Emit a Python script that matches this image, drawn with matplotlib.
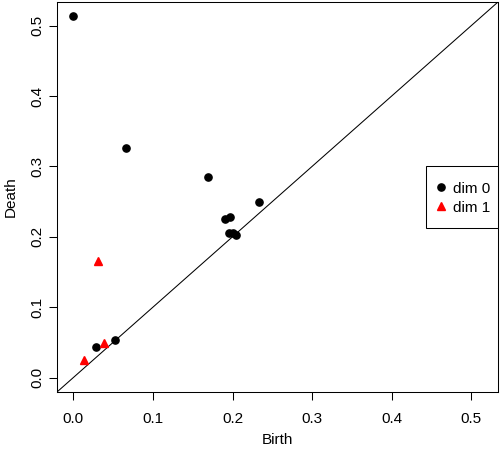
import matplotlib
matplotlib.use("Agg")
import matplotlib.pyplot as plt
from matplotlib.patches import Rectangle
import numpy as np

plt.rcParams['font.family'] = ['Liberation Sans', 'DejaVu Sans']

# Persistence diagram data
dim0_birth = [0.000, 0.066, 0.169, 0.233, 0.191, 0.197, 0.195, 0.201, 0.204, 0.052, 0.029]
dim0_death = [0.513, 0.326, 0.285, 0.249, 0.225, 0.228, 0.206, 0.206, 0.202, 0.053, 0.043]
dim1_birth = [0.031, 0.039, 0.014]
dim1_death = [0.165, 0.049, 0.025]
legend_labels = ["dim 0", "dim 1"]
ticks = [0.0, 0.1, 0.2, 0.3, 0.4, 0.5]

FS = 11

fig = plt.figure(figsize=(5, 4.5), dpi=100)
ax = fig.add_axes([57/500, 58/450, 441/500, 390/450])

lo, hi = 0.0, max(max(dim0_death), max(dim1_death))
pad = (hi - lo) * 0.04
lims = (lo - pad, hi + pad)
ax.set_xlim(lims)
ax.set_ylim(lims)

ax.plot(lims, lims, color='black', lw=0.75, zorder=1)
ax.plot(dim0_birth, dim0_death, 'o', color='black', markersize=5.2, linestyle='none',
        label=legend_labels[0], zorder=3)
ax.plot(dim1_birth, dim1_death, '^', color='red', markersize=6, linestyle='none',
        label=legend_labels[1], zorder=3)

ax.set_xticks(ticks)
ax.set_yticks(ticks)
ax.set_xticklabels([f"{t:.1f}" for t in ticks])
ax.set_yticklabels([f"{t:.1f}" for t in ticks], rotation=90, va='center')
ax.tick_params(direction='out', length=6, width=0.75, labelsize=FS)
ax.tick_params(axis='x', pad=8.5)
ax.tick_params(axis='y', pad=3)
for s in ax.spines.values():
    s.set_linewidth(0.75)

ax.set_xlabel("Birth", fontsize=FS, labelpad=5)
ax.set_ylabel("Death", fontsize=FS, labelpad=9)

# legend box (R style)
ax.add_patch(Rectangle((0.8367, 0.4205), 0.1633, 0.159, transform=ax.transAxes,
                       facecolor='white', edgecolor='black', lw=0.75, zorder=4,
                       clip_on=False))
leg = ax.legend(loc='center left', bbox_to_anchor=(0.856, 0.497), fontsize=FS,
                frameon=False, borderaxespad=0, borderpad=0,
                handlelength=0.8, handletextpad=0.4, labelspacing=0.34)
leg.set_zorder(5)

fig.savefig("out.png", dpi=100)
